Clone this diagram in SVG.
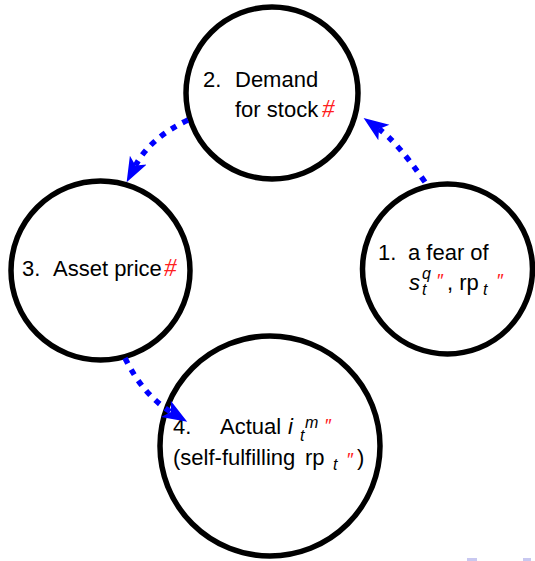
<svg xmlns="http://www.w3.org/2000/svg" width="535" height="561" viewBox="0 0 535 561">
<style>
.node circle{fill:#fff;stroke:#000;stroke-width:5.5}
text{font-family:"Liberation Sans",Arial,sans-serif;font-size:22px;fill:#000}
.r{fill:#ff2020}
.h{font-family:"Liberation Serif","Times New Roman",serif;font-style:italic;font-size:25px}
.it{font-style:italic}
.sm{font-size:16px}
.pr{font-size:19px}
.edge{fill:none;stroke:#0000ff;stroke-width:5.5;stroke-dasharray:6 7}
</style>
<defs>
<marker id="ah" markerUnits="userSpaceOnUse" markerWidth="26" markerHeight="22" viewBox="0 0 26 22" refX="6" refY="11" orient="auto">
<path d="M25,11 L0,1.5 L6,11 L0,20.5 Z" fill="#0000ff"/>
</marker>
</defs>
<rect width="535" height="561" fill="#fff"/>
<g id="n2" class="node">
<circle cx="272" cy="93" r="86"/>
<text x="203" y="87">2.</text>
<text x="235" y="87">Demand</text>
<text x="235" y="117">for stock<tspan class="r h" x="322">#</tspan></text>
</g>
<g id="n3" class="node">
<circle cx="100.5" cy="270.5" r="89.5"/>
<text x="22" y="276">3.</text>
<text x="53" y="276">Asset price<tspan class="r h" x="164">#</tspan></text>
</g>
<g id="n1" class="node">
<circle cx="447.5" cy="269" r="85"/>
<text x="378" y="260">1.</text>
<text x="408" y="260">a fear of</text>
<text x="409" y="290" class="it">s</text>
<text x="422" y="279" class="it sm">q</text>
<text x="422" y="295" class="it sm">t</text>
<text x="437" y="287" class="r pr">″</text>
<text x="447" y="290">, rp</text>
<text x="483" y="295" class="it sm">t</text>
<text x="497" y="287" class="r pr">″</text>
</g>
<g id="n4" class="node">
<circle cx="270" cy="446" r="110"/>
<text x="173" y="434">4.</text>
<text x="220" y="434">Actual</text>
<text x="288" y="434" class="it">i</text>
<text x="305" y="428" class="it sm">m</text>
<text x="300" y="441" class="it sm">t</text>
<text x="325" y="432" class="r pr">″</text>
<text x="173" y="465">(self-fulfilling</text>
<text x="305" y="465">rp</text>
<text x="333" y="470" class="it sm">t</text>
<text x="347" y="466" class="r pr">″</text>
<text x="357" y="465">)</text>
</g>
<g id="edges">
<path class="edge" d="M425,182 Q397,142 379,129" marker-end="url(#ah)"/>
<path class="edge" d="M188,120 Q150,138 135.5,165.5" marker-end="url(#ah)"/>
<path class="edge" d="M125,358 Q143,395 171,412" marker-end="url(#ah)"/>
</g>
<g id="nav" fill="#c8c8f0">
<rect x="467" y="558" width="10" height="3"/>
<rect x="523" y="558" width="8" height="3"/>
</g>
</svg>
